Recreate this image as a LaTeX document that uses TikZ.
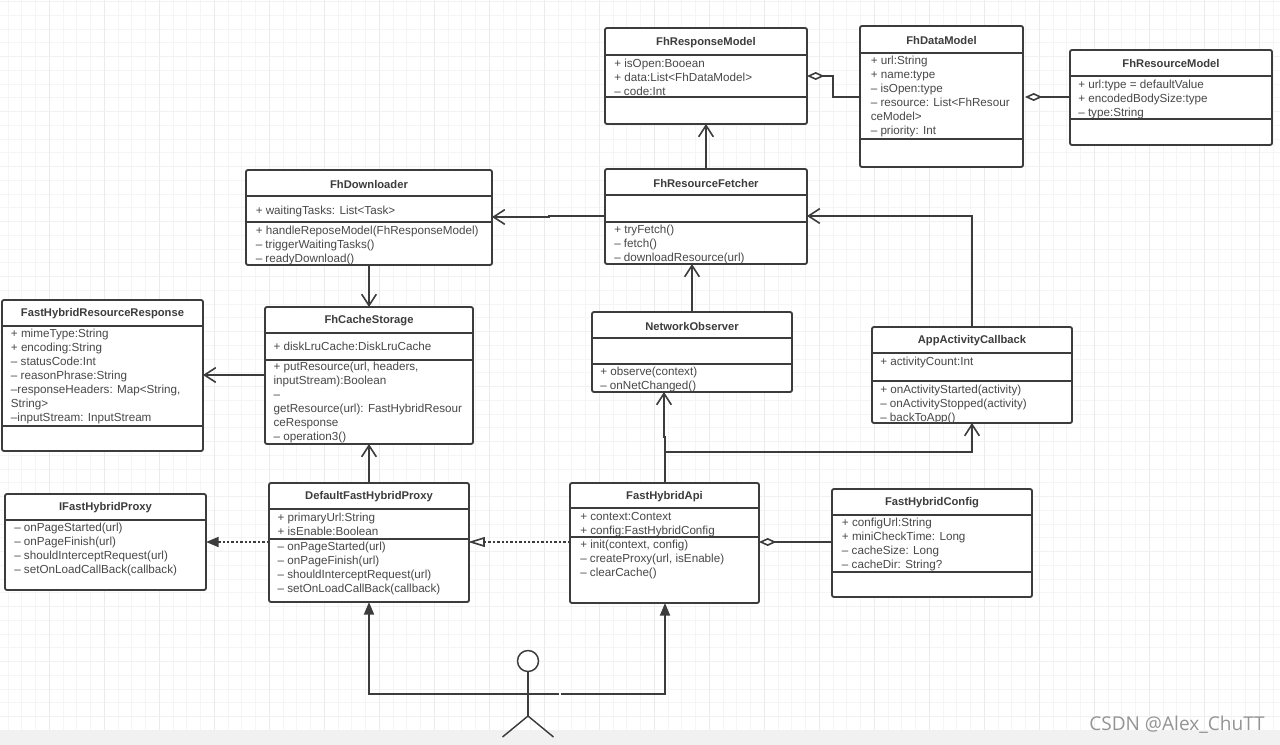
\documentclass[tikz,border=0pt]{standalone}
\usepackage{xcolor}
\usepackage{fontspec}
\setmainfont{Liberation Sans}
\newfontfamily\markfont{Open Sans}
\usetikzlibrary{arrows.meta}
\definecolor{linegray}{HTML}{3C3C3C}
\definecolor{textgray}{HTML}{484848}
\definecolor{minorgray}{HTML}{F5F5F5}
\definecolor{majorgray}{HTML}{EBEBEB}
\definecolor{bandgray}{HTML}{F1F1F1}
\tikzset{
    umlline/.style={draw=linegray, line width=1.4pt},
    classbox/.style={umlline, fill=white, rounded corners=1.5pt, anchor=north west, inner sep=0pt, outer sep=0pt},
    classtitle/.style={font=\fontsize{8.4pt}{10.5pt}\selectfont\bfseries, text=linegray, inner sep=0pt},
    classtext/.style={font=\fontsize{8.75pt}{10.5pt}\selectfont, text=textgray, align=left, anchor=north west, inner sep=0pt},
    assoc/.style={umlline, -{Straight Barb[length=8.5pt,width=11pt,line width=1.2pt]}},
    direct/.style={umlline, -{Triangle[length=9.5pt,width=7.5pt]}},
    aggregate/.style={umlline, -{Diamond[open,fill=white,length=13pt,width=6pt,line width=1.2pt]}},
    realize/.style={umlline, dash pattern=on 1.8pt off 1.5pt},
}
% name, x, y, width, height, title, y of the rule under the title
\newcommand{\umlclass}[7]{
    \node[classbox, minimum width=#4*0.75pt, minimum height=#5*0.75pt] (#1) at (#2,#3) {};
    \node[classtitle] (#1title) at ({#2+#4/2},{(#3+#7)/2+1}) {#6};
    \draw[umlline] (#1.west |- 0,#7) -- (#1.east |- 0,#7);
}
\newcommand{\umlrule}[2]{
    \draw[umlline] (#1.west |- 0,#2) -- (#1.east |- 0,#2);
}
% name, x, y of the middle of the first line, lines
\newcommand{\umltext}[4]{
    \node[classtext] (#1) at (#2,{#3-6.8}) {\rule{0pt}{8pt}#4};
}

\begin{document}
\begin{tikzpicture}[x=0.75pt, y=-0.75pt]
    \useasboundingbox (0,0) rectangle (1280,745);

    % grid paper
    \foreach \i in {0,...,93} {
        \draw[minorgray, line width=0.75pt] ({-5.7+13.75*\i},0) -- ({-5.7+13.75*\i},730);
    }
    \foreach \i in {0,...,53} {
        \draw[minorgray, line width=0.75pt] (0,{1.7+13.75*\i}) -- (1280,{1.7+13.75*\i});
    }
    \foreach \i in {0,...,22} {
        \draw[majorgray, line width=0.75pt] ({49.3+55*\i},0) -- ({49.3+55*\i},730);
    }
    \foreach \i in {0,...,13} {
        \draw[majorgray!70, line width=0.75pt] (0,{1.7+55*\i}) -- (1280,{1.7+55*\i});
    }
    \fill[bandgray] (0,730) rectangle (1280,745);

    % classes
    \umlclass{responsemodel}{605}{28}{202}{96}{FhResponseModel}{55}
    \umlrule{responsemodel}{97}
    \umltext{responsemodelattr}{614}{63}{+ isOpen:Booean\\+ data:List<FhDataModel>\\– code:Int}

    \umlclass{datamodel}{860}{26}{163}{141}{FhDataModel}{53}
    \umlrule{datamodel}{139}
    \umltext{datamodelattr}{870.5}{60.7}{+ url:String\\+ name:type\\– isOpen:type\\– resource: List<FhResour\\ceModel>\\– priority: Int}

    \umlclass{resourcemodel}{1070}{50}{202}{95}{FhResourceModel}{76}
    \umlrule{resourcemodel}{119}
    \umltext{resourcemodelattr}{1078}{84.3}{+ url:type = defaultValue\\+ encodedBodySize:type\\– type:String}

    \umlclass{fetcher}{605}{169}{202}{95}{FhResourceFetcher}{195}
    \umlrule{fetcher}{222}
    \umltext{fetcherops}{614}{229}{+ tryFetch()\\– fetch()\\– downloadResource(url)}

    \umlclass{downloader}{246}{170}{246}{95}{FhDownloader}{196}
    \umlrule{downloader}{222}
    \umltext{downloaderattr}{255.5}{210.7}{+ waitingTasks: List<Task>}
    \umltext{downloaderops}{255.5}{230.7}{+ handleReposeModel(FhResponseModel)\\– triggerWaitingTasks()\\– readyDownload()}

    \umlclass{cachestorage}{265}{307}{208}{137}{FhCacheStorage}{333}
    \umlrule{cachestorage}{360}
    \umltext{cachestorageattr}{273.3}{346.7}{+ diskLruCache:DiskLruCache}
    \umltext{cachestorageops}{273.3}{366.7}{+ putResource(url, headers,\\inputStream):Boolean\\–\\getResource(url): FastHybridResour\\ceResponse\\– operation3()}

    \umlclass{hybridresponse}{2}{300}{201}{151}{FastHybridResourceResponse}{326}
    \umlrule{hybridresponse}{426}
    \umltext{hybridresponseattr}{10.7}{333.3}{+ mimeType:String\\+ encoding:String\\– statusCode:Int\\– reasonPhrase:String\\–responseHeaders: Map<String,\\String>\\–inputStream: InputStream}

    \umlclass{observer}{592}{312}{200}{80}{NetworkObserver}{338}
    \umlrule{observer}{364}
    \umltext{observerops}{600}{371}{+ observe(context)\\– onNetChanged()}

    \umlclass{appcallback}{872}{327}{200}{96}{AppActivityCallback}{353}
    \umlrule{appcallback}{381}
    \umltext{appcallbackattr}{880}{361}{+ activityCount:Int}
    \umltext{appcallbackops}{880}{389}{+ onActivityStarted(activity)\\– onActivityStopped(activity)\\– backToApp()}

    \umlclass{proxyface}{5}{494}{201}{96}{IFastHybridProxy}{520}
    \umltext{proxyfaceops}{14}{527.3}{– onPageStarted(url)\\– onPageFinish(url)\\– shouldInterceptRequest(url)\\– setOnLoadCallBack(callback)}

    \umlclass{defaultproxy}{269}{483}{200}{119}{DefaultFastHybridProxy}{509}
    \umlrule{defaultproxy}{539}
    \umltext{defaultproxyattr}{277.3}{517.3}{+ primaryUrl:String\\+ isEnable:Boolean}
    \umltext{defaultproxyops}{277.3}{546.7}{– onPageStarted(url)\\– onPageFinish(url)\\– shouldInterceptRequest(url)\\– setOnLoadCallBack(callback)}

    \umlclass{hybridapi}{570}{483}{189}{120}{FastHybridApi}{508}
    \umlrule{hybridapi}{537}
    \umltext{hybridapiattr}{580}{516}{+ context:Context\\+ config:FastHybridConfig}
    \umltext{hybridapiops}{580}{544}{+ init(context, config)\\– createProxy(url, isEnable)\\– clearCache()}

    \umlclass{hybridconfig}{832}{489}{200}{108}{FastHybridConfig}{515}
    \umlrule{hybridconfig}{572}
    \umltext{hybridconfigattr}{841.7}{522}{+ configUrl:String\\+ miniCheckTime: Long\\– cacheSize: Long\\– cacheDir: String?}

    % person
    \node[circle, umlline, line width=1.1pt, fill=white, minimum size=21*0.75pt, inner sep=0pt, outer sep=0pt] (head) at (528,661) {};
    \coordinate (hip) at (528,716);
    \coordinate (armleft) at (497,694);
    \coordinate (armright) at (559,694);
    \coordinate (armgap) at (560.5,694);
    \coordinate (footleft) at (502.5,737);
    \coordinate (footright) at (553.5,737);
    \draw[umlline, line width=1.1pt] (head.south) -- (hip);
    \draw[umlline, line width=1.1pt] (armleft) -- (armright);
    \draw[umlline, line width=1.1pt] (footleft) -- (hip) -- (footright);

    % associations
    \draw[assoc] (fetcher.north) -- (responsemodel.south);
    \draw[assoc] (fetcher.west |- 0,216) -- (549,216) -- (549,217) -- (downloader.east |- 0,217);
    \draw[assoc] (downloader.south) -- (cachestorage.north);
    \draw[assoc] (cachestorage.west |- 0,375) -- (hybridresponse.east |- 0,375);
    \draw[assoc] (defaultproxy.north) -- (cachestorage.south);
    \draw[assoc] (observer.north) -- (observer.north |- fetcher.south);
    \draw[assoc] (appcallback.north) -- (appcallback.north |- 0,216) -- (fetcher.east |- 0,216);
    \draw[assoc] (665,483) -- (665,437) -- (664,437) -- (664,392);
    \draw[assoc] (665,452) -- (appcallback.south |- 0,452) -- (appcallback.south);

    % aggregation
    \draw[aggregate] (datamodel.west |- 0,97) -- (833,97) -- (833,76) -- (responsemodel.east |- 0,76);
    \draw[aggregate] (resourcemodel.west |- 0,97) -- (1025,97);
    \draw[aggregate] (hybridconfig.west |- 0,542) -- (hybridapi.east |- 0,542);

    % realization
    \draw[realize] (hybridapi.west |- 0,542) -- (484,542);
    \draw[umlline, fill=white, line width=1.2pt] (484,538) -- (471,542) -- (484,546) -- cycle;
    \draw[realize] (defaultproxy.west |- 0,542) -- (220,542);
    \draw[umlline, -{Triangle[length=9.5pt,width=7.5pt]}] (220,542) -- (proxyface.east |- 0,542);

    % person to entry classes
    \draw[direct] (armleft) -- (defaultproxy.south |- armleft) -- (defaultproxy.south);
    \draw[direct] (armgap) -- (665,694) -- (665,603);

    \node[font=\markfont\fontsize{14.3pt}{15pt}\selectfont, text=black!42, inner sep=0pt] (watermark) at (1177,725) {CSDN @Alex\_ChuTT};
\end{tikzpicture}
\end{document}
